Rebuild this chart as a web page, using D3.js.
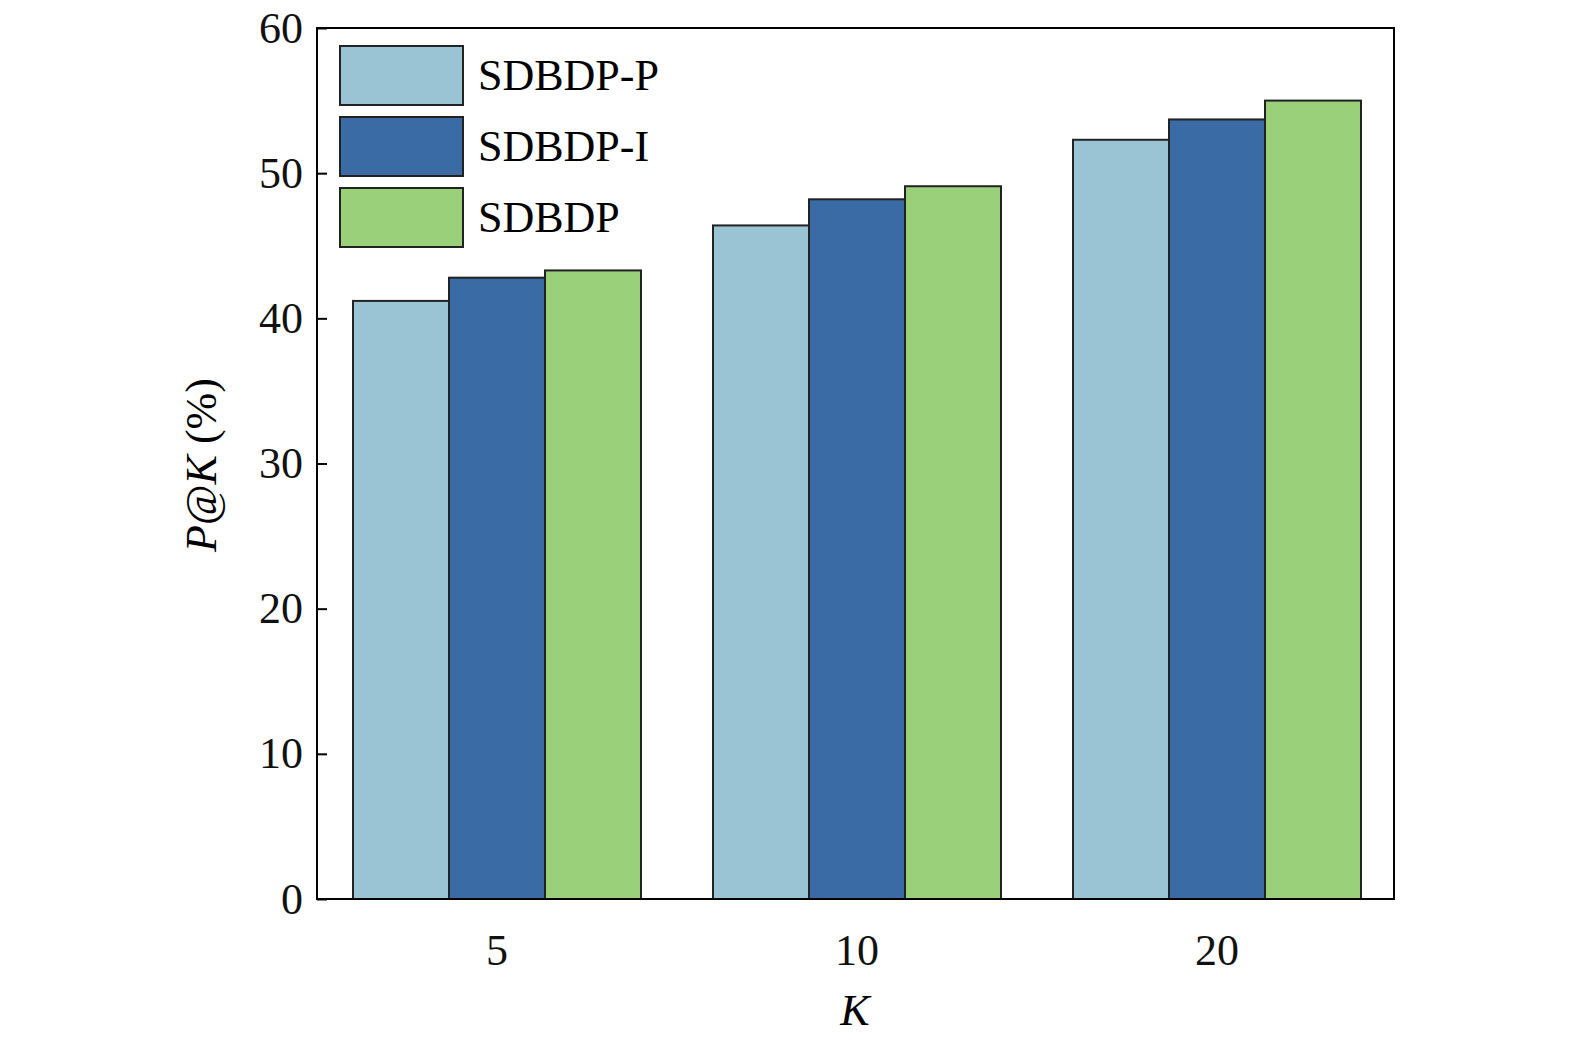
<!DOCTYPE html>
<html><head><meta charset="utf-8">
<script src="https://cdn.jsdelivr.net/npm/d3@7"></script>
<style>body{margin:0;background:#fff}text{font-family:"Liberation Serif","Times New Roman",serif}</style>
</head><body><svg id="c" width="1575" height="1047"></svg>
<script>
// data
var categories = ["5", "10", "20"];
var seriesNames = ["SDBDP-P", "SDBDP-I", "SDBDP"];
var sdbdpP = [41.2, 46.4, 52.3];
var sdbdpI = [42.8, 48.2, 53.7];
var sdbdp = [43.3, 49.1, 55.0];
var yTicks = [0, 10, 20, 30, 40, 50, 60];
var colors = ["#9ac3d4", "#3a6ba5", "#9bd07a"];

var series = [sdbdpP, sdbdpI, sdbdp];
var svg = d3.select("#c");
var L = 317, R = 1394, T = 28, B = 899;

var x = d3.scaleBand().domain(categories).range([L, L + 1080]).paddingInner(0.2).paddingOuter(0.1);
var xs = d3.scaleBand().domain(seriesNames).range([0, x.bandwidth()]);
var y = d3.scaleLinear().domain([0, 60]).range([B, T]);

categories.forEach(function(c, i) {
  series.forEach(function(s, j) {
    svg.append("rect")
      .attr("x", x(c) + xs(seriesNames[j])).attr("y", y(s[i]))
      .attr("width", xs.bandwidth()).attr("height", B - y(s[i]))
      .attr("fill", colors[j]).attr("stroke", "#222").attr("stroke-width", 2);
  });
});

svg.append("rect").attr("x", L).attr("y", T).attr("width", R - L).attr("height", B - T)
  .attr("fill", "none").attr("stroke", "#000").attr("stroke-width", 2);

var yAxis = svg.append("g").attr("transform", "translate(" + L + ",0)")
  .call(d3.axisLeft(y).tickValues(yTicks).tickSize(-10).tickPadding(14));
var xAxis = svg.append("g").attr("transform", "translate(0," + B + ")")
  .call(d3.axisBottom(x).tickSize(0).tickPadding(26));
[yAxis, xAxis].forEach(function(a) {
  a.select(".domain").remove();
  a.selectAll("text").attr("font-size", 44).attr("fill", "#111")
    .style("font-family", "'Liberation Serif',serif");
  a.selectAll("line").attr("stroke", "#000").attr("stroke-width", 2);
});
xAxis.selectAll("text").attr("dy", "0.9em");

svg.append("text").attr("x", 855).attr("y", 1025).attr("text-anchor", "middle")
  .attr("font-size", 44).attr("font-style", "italic").text("K");

var yl = svg.append("text").attr("transform", "translate(216,465) rotate(-90)")
  .attr("text-anchor", "middle").attr("font-size", 44);
yl.append("tspan").attr("font-style", "italic").text("P");
yl.append("tspan").text("@");
yl.append("tspan").attr("font-style", "italic").text("K");
yl.append("tspan").text(" (%)");

var lg = [46, 117, 188];
seriesNames.forEach(function(n, j) {
  svg.append("rect").attr("x", 340).attr("y", lg[j]).attr("width", 123).attr("height", 59)
    .attr("fill", colors[j]).attr("stroke", "#222").attr("stroke-width", 2);
  svg.append("text").attr("x", 478).attr("y", lg[j] + 44).attr("font-size", 44).text(n);
});
</script></body></html>
